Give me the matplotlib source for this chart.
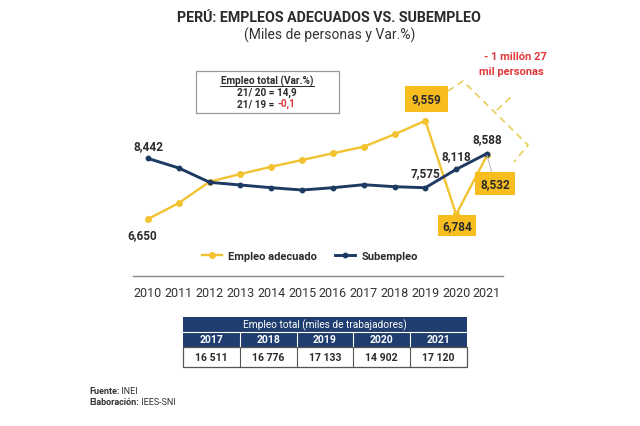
import matplotlib
matplotlib.use('Agg')
import matplotlib.pyplot as plt
from matplotlib.patches import Rectangle

plt.rcParams['font.family'] = ['Roboto', 'DejaVu Sans']

years = list(range(2010, 2022))
empleo_adecuado = [6650, 7123, 7754, 7981, 8197, 8396, 8594, 8789, 9156, 9559, 6784, 8532]
subempleo = [8442, 8159, 7736, 7656, 7576, 7508, 7576, 7665, 7606, 7575, 8118, 8588]
table_years = ['2017', '2018', '2019', '2020', '2021']
table_totals = ['16 511', '16 776', '17 133', '14 902', '17 120']
var_21_20 = '14,9'
var_21_19 = '-0,1'

YEL = '#F2C230'
BOX = '#F7BD1E'
BLUE = '#1D3A63'
TBL = '#1F3D6E'
TXT = '#2b2b2b'

W, H = 640, 427
fig = plt.figure(figsize=(6.4, 4.27), dpi=100)
fig.patch.set_facecolor('white')

def fx(px):
    return px / W

def fy(py):
    return 1 - py / H

ax = fig.add_axes([fx(133), fy(277), fx(503) - fx(133), fy(60) - fy(277)])
ax.set_xlim(2009.513, 2021.52)
ax.set_ylim(4964, 11384)
for s in ['top', 'left', 'right']:
    ax.spines[s].set_visible(False)
ax.spines['bottom'].set_color('#8a8a8a')
ax.spines['bottom'].set_linewidth(1.0)
ax.set_yticks([])
ax.set_xticks(years)
ax.set_xticklabels([str(y) for y in years], fontsize=9, color='#333333')
ax.tick_params(axis='x', length=0, pad=7)
ax.set_facecolor('none')

ax.plot(years, empleo_adecuado, color=YEL, lw=1.7, marker='o', ms=4, mfc=YEL, mec=YEL,
        zorder=2, label='Empleo adecuado')
ax.plot(years, subempleo, color=BLUE, lw=2.1, marker='o', ms=3.2, mfc=BLUE, mec=BLUE,
        zorder=3, label='Subempleo')

def lab(i, series, dx, dy, box=False, pad=0.4, leader=False):
    v = series[i]
    bbox = dict(boxstyle='square,pad=%s' % pad, fc=BOX, ec='none') if box else None
    arrow = dict(arrowstyle='-', color='#bdbdbd', lw=0.8, shrinkA=0, shrinkB=0) if leader else None
    ax.annotate(f'{v:,}', (years[i], v), xytext=(dx * 0.72, dy * 0.72),
                textcoords='offset points', ha='center', va='center',
                fontsize=8.5, fontweight='bold', color=TXT, bbox=bbox,
                arrowprops=arrow, zorder=6)

lab(0, subempleo, 0, 13)
lab(0, empleo_adecuado, -6, -16)
lab(9, empleo_adecuado, 1, 22, box=True, pad=0.55)
lab(10, empleo_adecuado, 1, -11, box=True, pad=0.35)
lab(11, empleo_adecuado, 8, -28, box=True, pad=0.45, leader=True)
lab(9, subempleo, 0, 15)
lab(10, subempleo, 0, 14)
lab(11, subempleo, 0, 15)

leg = ax.legend(loc='center', bbox_to_anchor=(fx(310), fy(257)), bbox_transform=fig.transFigure,
                ncol=2, frameon=False, handlelength=1.8, columnspacing=1.6, handletextpad=0.6,
                prop={'size': 8, 'weight': 'bold'})
for t in leg.get_texts():
    t.set_color(TXT)

# overlay in pixel coordinates
ov = fig.add_axes([0, 0, 1, 1], zorder=10)
ov.set_xlim(0, W)
ov.set_ylim(H, 0)
ov.axis('off')
ov.set_facecolor('none')

ov.text(329, 18, 'PERÚ: EMPLEOS ADECUADOS VS. SUBEMPLEO', ha='center', va='center',
        fontsize=10.2, fontweight='bold', color=TXT)
ov.text(330, 35, '(Miles de personas y Var.%)', ha='center', va='center',
        fontsize=10, color='#333333')

# info box
ov.add_patch(Rectangle((196, 72), 143, 42, fc='white', ec='#9a9a9a', lw=0.9))
ov.text(267, 81, 'Empleo total (Var.%)', ha='center', va='center', fontsize=7.2,
        fontweight='bold', color=TXT)
ov.plot([220, 314], [86.8, 86.8], color=TXT, lw=0.7)
ov.text(267, 93, f'21/ 20 = {var_21_20}', ha='center', va='center', fontsize=7.2,
        fontweight='bold', color=TXT)
ov.text(277, 104, '21/ 19 = ', ha='right', va='center', fontsize=7.2, fontweight='bold', color=TXT)
ov.text(277, 104, var_21_19, ha='left', va='center', fontsize=7.2, fontweight='bold', color='#E0383B')

# dashed bracket and red note
dash = dict(color='#E9CE5A', lw=1.2, ls=(0, (4, 3)))
ov.plot([448, 463, 528, 514], [92, 82, 146, 163], **dash)
ov.plot([497, 512], [111, 97], **dash)
ov.text(515, 57, '- 1 millón 27', ha='center', va='center', fontsize=8, fontweight='bold',
        color='#E0383B')
ov.text(511, 72, 'mil personas', ha='center', va='center', fontsize=8, fontweight='bold',
        color='#E0383B')

# table
x0, x1 = 183, 467
cw = (x1 - x0) / len(table_years)
ov.add_patch(Rectangle((x0, 318), x1 - x0, 30, fc=TBL, ec='none'))
ov.add_patch(Rectangle((x0, 348), x1 - x0, 20, fc='white', ec='#555555', lw=0.9))
ov.text((x0 + x1) / 2, 325.5, 'Empleo total (miles de trabajadores)', ha='center', va='center',
        fontsize=7.3, color='white')
ov.plot([x0, x1], [333, 333], color='white', lw=0.8)
for i, (yr, tot) in enumerate(zip(table_years, table_totals)):
    cx = x0 + cw * (i + 0.5)
    ov.text(cx, 340.5, yr, ha='center', va='center', fontsize=7.5, fontweight='bold', color='white')
    ov.text(cx, 358, tot, ha='center', va='center', fontsize=7.6, fontweight='bold', color=TXT)
    if i > 0:
        xs = x0 + cw * i
        ov.plot([xs, xs], [333, 348], color='white', lw=0.8)
        ov.plot([xs, xs], [348, 368], color='#555555', lw=0.8)

# footer
f1 = ov.text(89, 392, 'Fuente:', ha='left', va='center', fontsize=6.5, fontweight='bold', color='#333333')
ov.annotate(' INEI', xy=(1, 0.5), xycoords=f1, ha='left', va='center', fontsize=6.5, color='#333333')
f2 = ov.text(89, 403, 'Elaboración:', ha='left', va='center', fontsize=6.5, fontweight='bold', color='#333333')
ov.annotate(' IEES-SNI', xy=(1, 0.5), xycoords=f2, ha='left', va='center', fontsize=6.5, color='#333333')

fig.savefig('out.png', dpi=100)
